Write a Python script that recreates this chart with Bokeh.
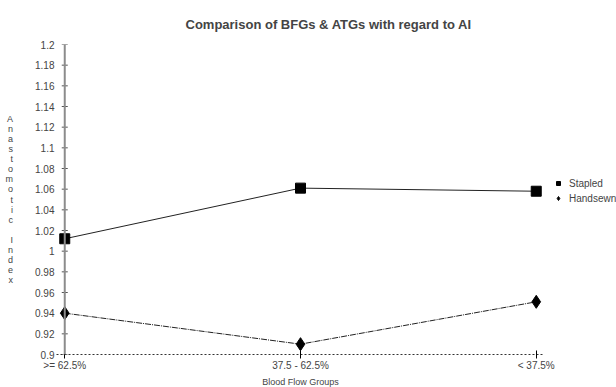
from bokeh.plotting import figure
from bokeh.models import Range1d, FixedTicker, Legend, LegendItem, Span
from bokeh.embed import file_html
from bokeh.resources import INLINE

categories = [">= 62.5%", "37.5 - 62.5%", "< 37.5%"]
stapled = [1.012, 1.061, 1.058]
handsewn = [0.940, 0.910, 0.951]
y_ticks = [0.9, 0.92, 0.94, 0.96, 0.98, 1.0, 1.02, 1.04, 1.06, 1.08, 1.1, 1.12, 1.14, 1.16, 1.18, 1.2]

FONT = "Liberation Sans"
xs = list(range(len(categories)))
PAD = 0.035

FW, FH = 488, 310
p = figure(frame_width=FW, frame_height=FH, output_backend="svg", toolbar_location=None,
           x_range=Range1d(xs[0] - PAD, xs[-1] + PAD), y_range=Range1d(y_ticks[0], y_ticks[-1]),
           min_border_left=56, min_border_top=44, min_border_bottom=20, min_border_right=72)
p.outline_line_color = None
p.xgrid.visible = False
p.ygrid.visible = False

p.title.text = "Comparison of BFGs & ATGs with regard to AI"
p.title.align = "left"
p.title.text_font = FONT
p.title.text_font_size = "13px"
p.title.text_font_style = "bold"
p.title.offset = 129
p.title.standoff = 26

# y axis line at the first category
p.add_layout(Span(location=xs[0], dimension="height", line_color="#8c8c8c", line_width=2))
# small y tick marks on that line
p.scatter([xs[0]] * len(y_ticks), y_ticks, marker="dash", size=6, line_color="#555555", line_width=1)

l1 = p.line(xs, stapled, line_color="#222222", line_width=1)
s1 = p.scatter(xs, stapled, marker="square", size=10, fill_color="black", line_color="black")
l2 = p.line(xs, handsewn, line_color="#222222", line_width=1, line_dash="6 1 1 1")
s2 = p.scatter(xs, handsewn, marker="diamond", size=13, fill_color="black", line_color="black")

# x axis
xa = p.xaxis[0]
xa.ticker = FixedTicker(ticks=xs)
xa.major_label_overrides = {i: c for i, c in enumerate(categories)}
xa.axis_label = "Blood Flow Groups"
xa.axis_label_text_font = FONT
xa.axis_label_text_font_size = "9px"
xa.axis_label_text_font_style = "normal"
xa.axis_label_standoff = 3
xa.major_label_text_font = FONT
xa.major_label_text_font_size = "10px"
xa.major_label_standoff = 1
xa.axis_line_dash = "2 2"
xa.axis_line_color = "#333333"
xa.major_tick_in = 4
xa.major_tick_out = 4
xa.minor_tick_line_color = None

# y axis (labels only; its line is the span above)
ya = p.yaxis[0]
ya.ticker = FixedTicker(ticks=y_ticks)
ya.major_label_overrides = {t: ("%g" % t) for t in y_ticks}
ya.axis_label = "\n".join("Anastomotic Index")
ya.axis_label_orientation = "horizontal"
ya.axis_label_text_font = FONT
ya.axis_label_text_font_size = "9px"
ya.axis_label_text_font_style = "normal"
ya.axis_label_text_line_height = 1.01
ya.axis_label_standoff = 19
ya.major_label_text_font = FONT
ya.major_label_text_font_size = "10px"
ya.major_label_standoff = -4
ya.axis_line_color = None
ya.major_tick_line_color = None
ya.minor_tick_line_color = None

legend = Legend(items=[LegendItem(label="Stapled", renderers=[s1]),
                       LegendItem(label="Handsewn", renderers=[s2])],
                location=(9, 150), border_line_color=None, background_fill_alpha=0,
                glyph_width=10, glyph_height=12, label_standoff=6, spacing=3,
                padding=0, margin=0, label_text_font=FONT, label_text_font_size="10px",
                label_height=12)
p.add_layout(legend, "right")

open("out.html", "w").write(file_html(p, INLINE))
